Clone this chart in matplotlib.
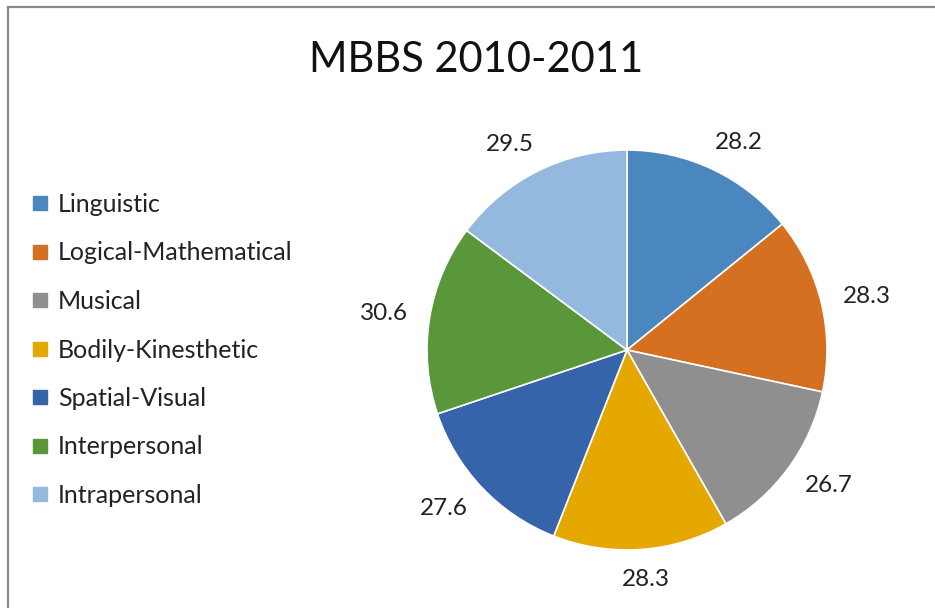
import matplotlib
matplotlib.use("Agg")
import numpy as np
import matplotlib.pyplot as plt
from matplotlib.lines import Line2D

categories = ["Linguistic", "Logical-Mathematical", "Musical", "Bodily-Kinesthetic",
              "Spatial-Visual", "Interpersonal", "Intrapersonal"]
values = [28.2, 28.3, 26.7, 28.3, 27.6, 30.6, 29.5]
colors = ["#4A87BF", "#D4701F", "#8F8F8F", "#E5A800", "#3664AA", "#5A973A", "#94B9DF"]
title = "MBBS 2010-2011"

plt.rcParams['font.family'] = ['Lato', 'DejaVu Sans']

W, H = 935, 608
fig = plt.figure(figsize=(W / 100, H / 100), dpi=100)
fig.patch.set_facecolor("white")

cx, cy, r = 627, 350, 200
ax = fig.add_axes([(cx - r) / W, (H - cy - r) / H, 2 * r / W, 2 * r / H])
wedges, _ = ax.pie(values, colors=colors, startangle=90, counterclock=False,
                   wedgeprops=dict(edgecolor="white", linewidth=1.2))
# data labels placed outside the end of each slice
for w, v in zip(wedges, values):
    th = np.deg2rad((w.theta1 + w.theta2) / 2)
    c, s = np.cos(th), np.sin(th)
    x = 1.1 * c + 0.13 * c + 0.1 * c * abs(s) ** 3
    y = 1.1 * s + 0.05 * s
    ax.text(x, y, f"{v}", ha="center", va="center", fontsize=17.5, color="#222222")
ax.set_xlim(-1, 1)
ax.set_ylim(-1, 1)
ax.set_aspect("equal")
ax.axis("off")

fig.text(476 / W, 1 - 60 / H, title, ha="center", va="center", fontsize=30, color="#111111")

handles = [Line2D([0], [0], marker="s", linestyle="none", markersize=9.5,
                  markerfacecolor=c, markeredgecolor=c) for c in colors]
leg = fig.legend(handles, categories, loc="center left",
                 bbox_to_anchor=(30 / W, 1 - 350 / H), frameon=False,
                 fontsize=18, handlelength=0.8, handletextpad=0.33,
                 labelspacing=1.02, borderaxespad=0, borderpad=0)
for t in leg.get_texts():
    t.set_color("#222222")

# partial frame: top and left lines
fig.add_artist(Line2D([7.5 / W, 1], [1 - 6.5 / H, 1 - 6.5 / H], color="#8A8A8A",
                      linewidth=1.6, transform=fig.transFigure))
fig.add_artist(Line2D([7.5 / W, 7.5 / W], [0, 1 - 6.5 / H], color="#8A8A8A",
                      linewidth=1.6, transform=fig.transFigure))

fig.savefig("out.png", dpi=100, facecolor="white")
